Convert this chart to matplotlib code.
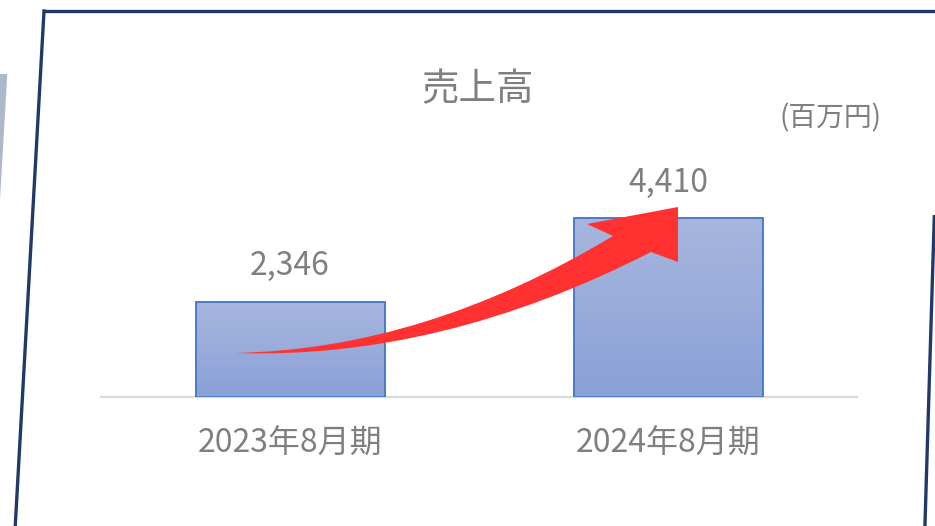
import numpy as np
import matplotlib
matplotlib.use('Agg')
import matplotlib.pyplot as plt
from matplotlib.patches import Polygon, PathPatch
from matplotlib.path import Path
from matplotlib.lines import Line2D

plt.rcParams['font.family'] = ['Noto Sans CJK JP', 'DejaVu Sans']

# Data
categories = ['2023年8月期', '2024年8月期']
sales = [2346, 4410]
value_labels = ['2,346', '4,410']
title = '売上高'
unit = '(百万円)'

W, H = 935, 526
TEXT = '#7f7f7f'

def px(x, y):
    # pixel position (top-left origin) -> figure fraction
    return (x / W, 1 - y / H)

fig = plt.figure(figsize=(W / 100, H / 100), dpi=100)
fig.patch.set_facecolor('white')

# axes placed so the bars land where they sit in the picture
ymax = 6000
px_per_unit = 179 / 4410
ax_h = ymax * px_per_unit
ax = fig.add_axes([101 / W, (526 - 397) / H, 756 / W, ax_h / H])
ax.set_facecolor('none')

x = np.arange(len(categories))
bars = ax.bar(x, sales, width=0.5, facecolor='none', edgecolor='#4472c4',
              linewidth=1.3, zorder=3)

# vertical gradient fill inside each bar
grad = np.linspace(0, 1, 256).reshape(-1, 1)
cmap = matplotlib.colors.LinearSegmentedColormap.from_list('g', ['#8aa1d7', '#a7b6de'])
for b in bars:
    x0, w, h = b.get_x(), b.get_width(), b.get_height()
    im = ax.imshow(grad, extent=[x0, x0 + w, 0, h], origin='lower', cmap=cmap,
                   aspect='auto', zorder=2)
    im.set_clip_path(b)

ax.set_xlim(-0.5, 1.5)
ax.set_ylim(0, ymax)

for xi, v, lab in zip(x, sales, value_labels):
    ax.annotate(lab, (xi, v), xytext=(0, 25.5), textcoords='offset points',
                ha='center', va='center', fontsize=23, color=TEXT)

ax.set_xticks(x)
ax.set_xticklabels(categories, fontsize=23, color=TEXT)
ax.tick_params(axis='x', length=0, pad=22)
ax.set_yticks([])
for s in ['top', 'left', 'right']:
    ax.spines[s].set_visible(False)
ax.spines['bottom'].set_color('#d9d9d9')
ax.spines['bottom'].set_linewidth(1.6)

fig.text(*px(478, 90), title, ha='center', va='center', fontsize=27, color=TEXT)
fig.text(*px(831, 118), unit, ha='center', va='center', fontsize=20, color=TEXT)

# red growth arrow
verts = [px(235, 353), px(424, 349.5), px(613, 236), px(587, 224), px(678, 207),
         px(678, 262), px(651, 252), px(440, 360), px(235, 353), px(235, 353)]
codes = [Path.MOVETO, Path.CURVE3, Path.CURVE3, Path.LINETO, Path.LINETO,
         Path.LINETO, Path.LINETO, Path.CURVE3, Path.CURVE3, Path.CLOSEPOLY]
arrow = PathPatch(Path(verts, codes), facecolor='#ff3131', edgecolor='none',
                  transform=fig.transFigure, zorder=5)
fig.add_artist(arrow)

# gray wedge at the left edge
fig.add_artist(Polygon([px(0, 74), px(7.3, 74), px(0, 200)], closed=True,
                       facecolor='#aeb8cb', edgecolor='none',
                       transform=fig.transFigure, zorder=4))

# skewed navy frame
navy = '#1f3a68'
for (xa, ya), (xb, yb) in [((44, 11), (940, 11)), ((44, 11), (15, 530)),
                           ((934.3, 216.7), (924.8, 530))]:
    (fa, ga), (fb, gb) = px(xa, ya), px(xb, yb)
    fig.add_artist(Line2D([fa, fb], [ga, gb], color=navy, linewidth=2.4,
                          transform=fig.transFigure, zorder=6,
                          solid_capstyle='projecting'))

fig.savefig('out.png', dpi=100)
